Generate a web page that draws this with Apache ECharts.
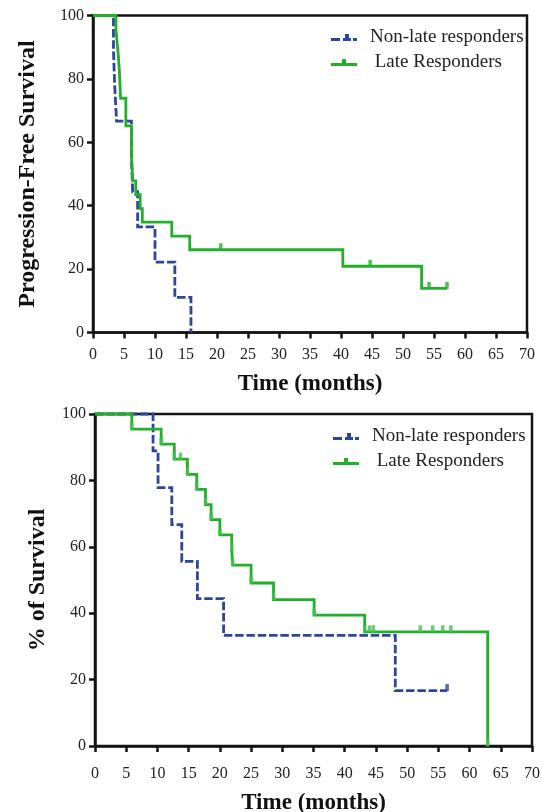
<!DOCTYPE html>
<html><head><meta charset="utf-8">
<script src="https://cdn.jsdelivr.net/npm/echarts@6/dist/echarts.min.js"></script>
<style>html,body{margin:0;padding:0;background:#fff}#c{width:542px;height:812px}</style>
</head><body><div id="c"></div>
<script>
// ---- data ----
const seriesNames = ['Non-late responders', 'Late Responders'];
const xTicks = [0, 5, 10, 15, 20, 25, 30, 35, 40, 45, 50, 55, 60, 65, 70];
const yTicks = [0, 20, 40, 60, 80, 100];
const xTitle = 'Time (months)';
const yTitleTop = 'Progression-Free Survival';
const yTitleBottom = '% of Survival';

// Top panel: progression-free survival
const pfsNonLateTime = [0, 3.3, 3.5, 3.8, 6.2, 6.4, 7.2, 10.0, 13.2, 15.8];
const pfsNonLateSurv = [100, 88.9, 77.8, 66.7, 55.6, 44.4, 33.3, 22.2, 11.1, 0];
const pfsLateTime = [0, 3.7, 3.9, 4.1, 4.25, 4.35, 4.45, 5.3, 6.2, 6.4, 6.9, 7.6, 7.95, 12.7, 15.6, 40.3, 53.0, 57.1];
const pfsLateSurv = [100, 95.7, 91.3, 87.0, 82.6, 78.3, 73.9, 65.2, 56.5, 47.8, 43.5, 39.1, 34.8, 30.4, 26.1, 20.9, 13.9, 13.9];
const pfsLateCensor = [20.6, 44.7, 54.2, 57.1];

// Bottom panel: overall survival
const osNonLateTime = [0, 9.3, 10.1, 12.3, 13.9, 16.4, 20.6, 48.1, 56.4];
const osNonLateSurv = [100, 88.9, 77.8, 66.7, 55.6, 44.4, 33.3, 16.7, 16.7];
const osNonLateCensor = [56.4];
const osLateTime = [0, 5.9, 10.6, 12.7, 14.8, 16.3, 17.7, 18.6, 20.0, 21.9, 22.05, 25.0, 28.6, 35.1, 43.2, 62.9];
const osLateSurv = [100, 95.45, 90.9, 86.4, 81.8, 77.3, 72.7, 68.2, 63.6, 59.1, 54.5, 49.1, 44.1, 39.4, 34.4, 0];
const osLateStepMarks = [5.9, 10.6, 12.7, 13.7, 14.8, 16.3, 17.7, 18.6, 20.0, 21.9, 22.05, 25.0, 28.6, 35.1, 43.2, 62.9];
const osLateCensor = [44.0, 44.6, 52.1, 54.1, 55.7, 57.0];

// ---- build ----
const FONT = 'Liberation Serif';
const BLUE = '#2c45a0', GREEN = '#22b02a', GREEN_LIGHT = '#45c254', AXIS = '#141414', TXT = '#222';

function pairs(t, s) { return t.map((v, i) => [v, s[i]]); }
function stepAt(t, s, x) { let v = s[0]; for (let i = 0; i < t.length; i++) if (t[i] <= x) v = s[i]; return v; }
function censorPts(t, s, c) { return c.map(x => [x, stepAt(t, s, x)]); }

function xAxis(gi, labelMargin, nameGap) {
  return {
    gridIndex: gi, type: 'value', min: xTicks[0], max: xTicks[xTicks.length - 1], interval: xTicks[1] - xTicks[0],
    name: xTitle, nameLocation: 'middle', nameGap: nameGap,
    nameTextStyle: { fontFamily: FONT, fontSize: 23, fontWeight: 'bold', color: '#111' },
    axisLine: { show: true, onZero: false, lineStyle: { color: AXIS, width: 2.5 } },
    axisTick: { show: true, inside: false, length: 6, lineStyle: { color: AXIS, width: 2.5 } },
    axisLabel: { fontFamily: FONT, fontSize: 16, color: TXT, margin: labelMargin },
    splitLine: { show: false }
  };
}
function yAxis(gi, name, nameGap) {
  return {
    gridIndex: gi, type: 'value', min: yTicks[0], max: yTicks[yTicks.length - 1], interval: yTicks[1] - yTicks[0],
    name: name, nameLocation: 'middle', nameGap: nameGap, nameRotate: 90,
    nameTextStyle: { fontFamily: FONT, fontSize: 24, fontWeight: 'bold', color: '#111' },
    axisLine: { show: true, onZero: false, lineStyle: { color: AXIS, width: 2.5 } },
    axisTick: { show: true, inside: false, length: 6, lineStyle: { color: AXIS, width: 2.5 } },
    axisLabel: { fontFamily: FONT, fontSize: 16, color: TXT, margin: 9 },
    splitLine: { show: false }
  };
}
function kmLine(name, gi, data, color, dashed, z) {
  return {
    name: name, type: 'line', xAxisIndex: gi, yAxisIndex: gi, data: data, step: 'end',
    showSymbol: false, symbol: 'none', clip: false, z: z, animation: false,
    lineStyle: { color: color, width: 2.8, type: dashed ? [8.5, 2.8] : 'solid', cap: 'butt', join: 'miter' },
    itemStyle: { color: color }
  };
}
function marks(gi, data, color, z) {
  return {
    name: 'censored', type: 'scatter', xAxisIndex: gi, yAxisIndex: gi, data: data,
    symbol: 'rect', symbolSize: [3.5, 7], symbolOffset: [0, -3], z: z, clip: false, animation: false,
    itemStyle: { color: color }, silent: true
  };
}
const blueIcon = 'path://M0,4H9V7H0Z M12,4H20V7H12Z M14,0H18V4H14Z M22,4H26V7H22Z';
const greenIcon = 'path://M0,4H26V7H0Z M11,0H15V4H11Z';
function legend(left, top) {
  return {
    left: left, top: top, orient: 'vertical', itemWidth: 26, itemHeight: 7, itemGap: 6, padding: 0,
    data: [{ name: seriesNames[0], icon: blueIcon }, { name: seriesNames[1], icon: greenIcon }],
    itemStyle: { borderWidth: 0 },
    formatter: n => n === seriesNames[1] ? ' ' + n : n,
    textStyle: { fontFamily: FONT, fontSize: 19, color: TXT, padding: [0, 0, 0, 8], lineHeight: 19 },
    selectedMode: false
  };
}

const option = {
  animation: false,
  backgroundColor: '#fff',
  grid: [
    { left: 93, top: 15.5, width: 434, height: 317, outerBoundsMode: 'none', containLabel: false, show: true, borderColor: AXIS, borderWidth: 2.5, backgroundColor: 'transparent' },
    { left: 95, top: 414, width: 437, height: 332, outerBoundsMode: 'none', containLabel: false, show: true, borderColor: AXIS, borderWidth: 2.5, backgroundColor: 'transparent' }
  ],
  xAxis: [xAxis(0, 14, 40), xAxis(1, 20, 46)],
  yAxis: [yAxis(0, yTitleTop, 53), yAxis(1, yTitleBottom, 45)],
  legend: [legend(331, 28), legend(333, 427)],
  series: [
    kmLine(seriesNames[0], 0, pairs(pfsNonLateTime, pfsNonLateSurv), BLUE, true, 3),
    kmLine(seriesNames[1], 0, pairs(pfsLateTime, pfsLateSurv), GREEN, false, 4),
    marks(0, censorPts(pfsLateTime, pfsLateSurv, pfsLateCensor), GREEN, 5),
    kmLine(seriesNames[0], 1, pairs(osNonLateTime, osNonLateSurv), BLUE, true, 3),
    kmLine(seriesNames[1], 1, pairs(osLateTime, osLateSurv), GREEN, false, 4),
    marks(1, censorPts(osNonLateTime, osNonLateSurv, osNonLateCensor), BLUE, 5),
    marks(1, censorPts(osLateTime, osLateSurv, osLateStepMarks), GREEN_LIGHT, 5),
    marks(1, censorPts(osLateTime, osLateSurv, osLateCensor), GREEN_LIGHT, 5)
  ]
};
const chart = echarts.init(document.getElementById('c'), null, { renderer: 'canvas' });
chart.setOption(option);
</script>
</body></html>
